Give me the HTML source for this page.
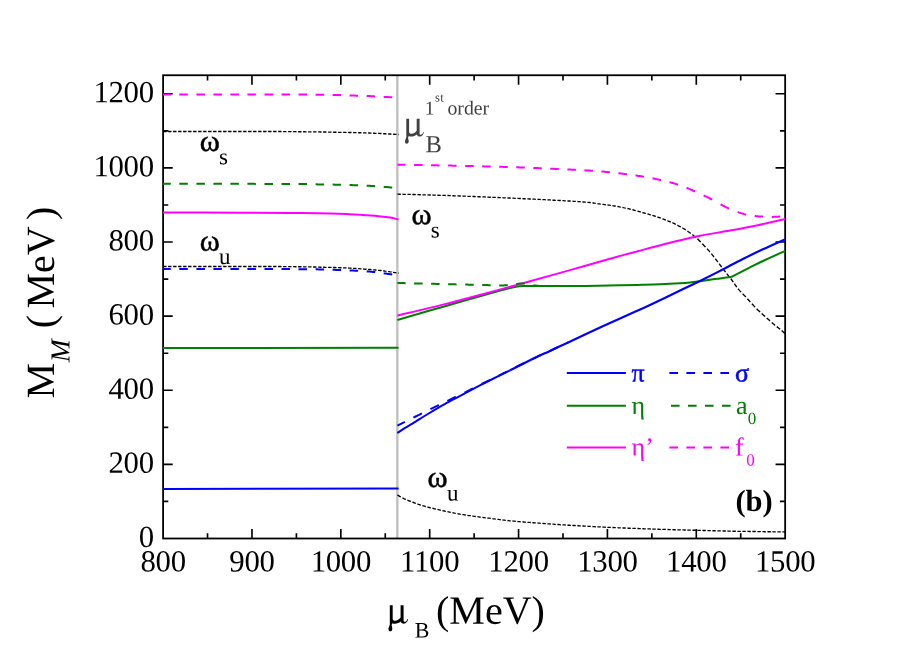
<!DOCTYPE html>
<html>
<head>
<meta charset="utf-8">
<title>Meson masses vs baryon chemical potential</title>
<style>
html, body { margin: 0; padding: 0; background: #ffffff; }
body { width: 913px; height: 646px; overflow: hidden; }
svg { display: block; will-change: transform; }
svg text { font-family: "Liberation Serif", serif; }
</style>
</head>
<body>
<svg width="913" height="646" viewBox="0 0 913 646">
<rect x="0" y="0" width="913" height="646" fill="#ffffff"/>
<line x1="397.35" y1="75.25" x2="397.35" y2="538.50" stroke="#c0c0c0" stroke-width="2.4"/>
<rect x="163.10" y="75.25" width="622.05" height="463.25" fill="none" stroke="#000" stroke-width="1.8"/>
<path d="M207.53 538.50 v-5.20 M207.53 75.25 v5.20 M251.96 538.50 v-9.60 M251.96 75.25 v9.60 M296.40 538.50 v-5.20 M296.40 75.25 v5.20 M340.83 538.50 v-9.60 M340.83 75.25 v9.60 M385.26 538.50 v-5.20 M385.26 75.25 v5.20 M429.69 538.50 v-9.60 M429.69 75.25 v9.60 M474.12 538.50 v-5.20 M474.12 75.25 v5.20 M518.56 538.50 v-9.60 M518.56 75.25 v9.60 M562.99 538.50 v-5.20 M562.99 75.25 v5.20 M607.42 538.50 v-9.60 M607.42 75.25 v9.60 M651.85 538.50 v-5.20 M651.85 75.25 v5.20 M696.29 538.50 v-9.60 M696.29 75.25 v9.60 M740.72 538.50 v-5.20 M740.72 75.25 v5.20 M163.10 501.44 h5.20 M785.15 501.44 h-5.20 M163.10 464.38 h9.60 M785.15 464.38 h-9.60 M163.10 427.32 h5.20 M785.15 427.32 h-5.20 M163.10 390.26 h9.60 M785.15 390.26 h-9.60 M163.10 353.20 h5.20 M785.15 353.20 h-5.20 M163.10 316.14 h9.60 M785.15 316.14 h-9.60 M163.10 279.08 h5.20 M785.15 279.08 h-5.20 M163.10 242.02 h9.60 M785.15 242.02 h-9.60 M163.10 204.96 h5.20 M785.15 204.96 h-5.20 M163.10 167.90 h9.60 M785.15 167.90 h-9.60 M163.10 130.84 h5.20 M785.15 130.84 h-5.20 M163.10 93.78 h9.60 M785.15 93.78 h-9.60" stroke="#000" stroke-width="1.65" fill="none"/>
<path d="M163.1 131.5 164.2 131.5 165.2 131.5 166.2 131.5 166.5 131.5M168.1 131.5 169.3 131.5 170.4 131.5 171.5 131.5 171.5 131.5M173.1 131.5 174.3 131.5 175.4 131.5 176.5 131.5 176.5 131.5M178.1 131.5 179.2 131.5 180.2 131.5 181.2 131.5 181.5 131.5M183.1 131.5 184.2 131.5 185.2 131.5 186.3 131.5 186.5 131.5M188.1 131.5 189.2 131.5 190.3 131.5 191.4 131.5 191.5 131.5M193.1 131.5 194.2 131.5 195.3 131.5 196.5 131.5 196.5 131.5M198.1 131.5 199.3 131.5 200.4 131.5 201.5 131.5M203.1 131.5 204.2 131.5 205.3 131.5 206.5 131.5M208.1 131.5 209.3 131.5 210.5 131.5 211.5 131.5M213.1 131.5 214.1 131.5 215.3 131.5 216.4 131.5 216.5 131.5M218.1 131.5 219.3 131.5 220.4 131.5 221.5 131.5 221.5 131.5M223.1 131.5 224.2 131.5 225.2 131.5 226.3 131.5 226.5 131.5M228.1 131.5 229.2 131.5 230.4 131.5 231.5 131.5 231.5 131.5M233.1 131.5 234.2 131.5 235.3 131.5 236.3 131.5 236.5 131.5M238.1 131.5 239.2 131.5 240.2 131.5 241.3 131.5 241.5 131.5M243.1 131.5 244.1 131.5 245.2 131.5 246.2 131.5 246.5 131.5M248.1 131.5 249.2 131.5 250.3 131.5 251.3 131.5 251.5 131.5M253.1 131.5 254.3 131.5 255.3 131.5 256.3 131.5 256.5 131.5M258.1 131.5 259.3 131.5 260.5 131.5 261.5 131.5M263.1 131.5 264.3 131.5 265.4 131.5 266.5 131.5M268.1 131.5 269.2 131.5 270.4 131.5 271.5 131.5M273.1 131.5 274.3 131.5 275.4 131.5 276.5 131.5M278.1 131.5 279.1 131.5 280.3 131.5 281.5 131.5 281.5 131.5M283.1 131.6 284.2 131.6 285.4 131.6 286.5 131.6M288.1 131.6 289.2 131.6 290.4 131.6 291.5 131.6 291.5 131.6M293.1 131.6 294.2 131.6 295.2 131.6 296.3 131.7 296.5 131.7M298.1 131.7 299.3 131.7 300.4 131.7 301.5 131.7 301.5 131.7M303.1 131.7 304.3 131.7 305.4 131.8 306.5 131.8 306.5 131.8M308.1 131.8 309.3 131.8 310.4 131.8 311.4 131.8 311.5 131.8M313.1 131.9 314.2 131.9 315.3 131.9 316.4 131.9 316.5 131.9M318.1 131.9 319.2 131.9 320.2 132.0 321.3 132.0 321.5 132.0M323.1 132.0 324.2 132.0 325.2 132.0 326.2 132.1 326.5 132.1M328.1 132.1 329.2 132.1 330.4 132.1 331.5 132.1M333.1 132.2 334.3 132.2 335.4 132.2 336.5 132.2 336.5 132.2M338.1 132.3 339.2 132.3 340.2 132.3 341.2 132.3 341.5 132.3M343.1 132.3 344.2 132.4 345.2 132.4 346.3 132.4 346.5 132.4M348.1 132.4 349.1 132.5 350.2 132.5 351.2 132.5 351.5 132.5M353.1 132.5 354.1 132.6 355.3 132.6 356.4 132.6 356.5 132.6M358.1 132.7 359.2 132.7 360.3 132.7 361.4 132.8 361.5 132.8M363.1 132.8 364.2 132.8 365.2 132.9 366.2 132.9 366.5 132.9M368.1 133.0 369.2 133.0 370.3 133.1 371.3 133.1 371.5 133.1M373.1 133.2 374.2 133.2 375.3 133.3 376.4 133.3 376.5 133.3M378.1 133.4 379.2 133.4 380.4 133.5 381.5 133.5M383.1 133.6 384.1 133.7 385.3 133.7 386.4 133.8 386.5 133.8M388.1 133.9 389.1 134.0 390.2 134.0 391.2 134.1 391.5 134.1M393.1 134.2 394.1 134.2 395.2 134.3 396.3 134.4 396.5 134.4M398.1 134.5 398.6 134.5" fill="none" stroke="#000" stroke-width="1.35"/>
<path d="M163.1 266.5 164.2 266.5 165.2 266.5 166.2 266.5 166.5 266.5M168.1 266.5 169.2 266.5 170.3 266.5 171.4 266.5 171.5 266.5M173.1 266.5 174.2 266.5 175.3 266.5 176.4 266.5 176.5 266.5M178.1 266.5 179.1 266.5 180.3 266.5 181.3 266.5 181.5 266.5M183.1 266.5 184.2 266.5 185.3 266.5 186.4 266.5 186.5 266.5M188.1 266.5 189.3 266.5 190.4 266.5 191.5 266.5M193.1 266.5 194.2 266.5 195.4 266.5 196.5 266.5M198.1 266.5 199.1 266.5 200.3 266.5 201.5 266.5 201.5 266.5M203.1 266.5 204.3 266.5 205.5 266.5 206.5 266.5M208.1 266.5 209.3 266.5 210.5 266.5 211.5 266.5M213.1 266.5 214.2 266.5 215.4 266.5 216.5 266.5M218.1 266.5 219.3 266.5 220.4 266.5 221.5 266.5M223.1 266.5 224.2 266.5 225.3 266.5 226.4 266.5 226.5 266.5M228.1 266.5 229.1 266.5 230.1 266.5 231.1 266.5 231.5 266.5M233.1 266.5 234.3 266.5 235.4 266.5 236.5 266.5M238.1 266.5 239.2 266.5 240.3 266.5 241.3 266.5 241.5 266.5M243.1 266.5 244.2 266.5 245.5 266.5 246.5 266.5M248.1 266.5 249.3 266.5 250.5 266.5 251.5 266.5M253.1 266.5 254.1 266.5 255.2 266.5 256.4 266.5 256.5 266.5M258.1 266.5 259.2 266.5 260.3 266.5 261.3 266.5 261.5 266.5M263.1 266.5 264.2 266.5 265.3 266.5 266.3 266.5 266.5 266.5M268.1 266.5 269.2 266.5 270.4 266.5 271.5 266.5M273.1 266.5 274.2 266.5 275.3 266.5 276.4 266.5 276.5 266.5M278.1 266.5 279.2 266.5 280.3 266.5 281.3 266.6 281.5 266.6M283.1 266.6 284.2 266.6 285.4 266.6 286.5 266.6M288.1 266.6 289.2 266.6 290.3 266.6 291.4 266.6 291.5 266.6M293.1 266.6 294.2 266.6 295.4 266.7 296.5 266.7M298.1 266.7 299.2 266.7 300.2 266.7 301.2 266.7 301.5 266.7M303.1 266.8 304.3 266.8 305.4 266.8 306.4 266.8 306.5 266.8M308.1 266.9 309.2 266.9 310.3 266.9 311.3 266.9 311.5 266.9M313.1 267.0 314.2 267.0 315.3 267.0 316.4 267.1 316.5 267.1M318.1 267.1 319.2 267.1 320.2 267.2 321.2 267.2 321.5 267.2M323.1 267.2 324.1 267.2 325.2 267.3 326.2 267.3 326.5 267.3M328.1 267.3 329.1 267.4 330.2 267.4 331.2 267.4 331.5 267.4M333.1 267.5 334.3 267.5 335.3 267.5 336.3 267.6 336.5 267.6M338.1 267.6 339.1 267.6 340.3 267.7 341.4 267.7 341.5 267.7M343.1 267.8 344.2 267.8 345.3 267.9 346.5 267.9 346.5 267.9M348.1 268.0 349.2 268.1 350.3 268.1 351.4 268.2 351.5 268.2M353.1 268.3 354.2 268.4 355.2 268.4 356.3 268.5 356.5 268.5M358.1 268.6 359.2 268.7 360.4 268.8 361.5 268.9M363.1 269.0 364.3 269.1 365.3 269.2 366.3 269.2 366.5 269.3M368.1 269.4 369.1 269.5 370.2 269.5 371.2 269.6 371.5 269.7M373.1 269.8 374.2 269.9 375.3 270.0 376.4 270.1 376.5 270.1M378.1 270.3 379.3 270.4 380.3 270.5 381.4 270.6 381.5 270.7M383.1 270.9 384.3 271.0 385.4 271.2 386.5 271.3M388.1 271.6 389.1 271.7 390.3 271.9 391.5 272.0 391.5 272.1M393.1 272.3 394.3 272.5 395.5 272.6 396.5 272.8M398.1 273.0 398.6 273.1" fill="none" stroke="#000" stroke-width="1.35"/>
<path d="M397.4 194.1 398.4 194.1 399.5 194.2 400.5 194.2 400.8 194.2M402.4 194.2 403.4 194.3 404.5 194.3 405.6 194.3 405.8 194.3M407.4 194.4 408.4 194.4 409.5 194.4 410.6 194.4 410.8 194.4M412.4 194.5 413.5 194.5 414.6 194.5 415.6 194.6 415.8 194.6M417.4 194.6 418.5 194.6 419.6 194.7 420.7 194.7 420.8 194.7M422.4 194.8 423.4 194.8 424.5 194.8 425.7 194.8 425.8 194.8M427.4 194.9 428.4 194.9 429.6 195.0 430.8 195.0M432.4 195.0 433.4 195.1 434.6 195.1 435.8 195.1M437.4 195.2 438.4 195.2 439.6 195.3 440.8 195.3M442.4 195.3 443.4 195.4 444.6 195.4 445.8 195.5M447.4 195.5 448.4 195.5 449.5 195.6 450.7 195.6 450.8 195.6M452.4 195.7 453.4 195.7 454.5 195.8 455.6 195.8 455.8 195.8M457.4 195.9 458.4 195.9 459.6 196.0 460.7 196.0 460.8 196.0M462.4 196.1 463.4 196.1 464.6 196.1 465.8 196.2M467.4 196.3 468.4 196.3 469.4 196.3 470.4 196.4 470.8 196.4M472.4 196.4 473.5 196.5 474.5 196.5 475.6 196.6 475.8 196.6M477.4 196.6 478.5 196.7 479.5 196.7 480.6 196.8 480.8 196.8M482.4 196.9 483.5 196.9 484.5 196.9 485.6 197.0 485.8 197.0M487.4 197.1 488.5 197.1 489.6 197.2 490.6 197.2 490.8 197.2M492.4 197.3 493.4 197.3 494.4 197.4 495.4 197.4 495.8 197.4M497.4 197.5 498.4 197.5 499.4 197.6 500.4 197.6 500.8 197.6M502.4 197.7 503.5 197.8 504.5 197.8 505.6 197.8 505.8 197.9M507.4 197.9 508.4 198.0 509.4 198.0 510.6 198.1 510.8 198.1M512.4 198.1 513.5 198.2 514.7 198.3 515.8 198.3M517.4 198.4 518.5 198.4 519.6 198.5 520.7 198.5 520.8 198.5M522.4 198.6 523.5 198.7 524.6 198.7 525.7 198.8 525.8 198.8M527.4 198.8 528.4 198.9 529.5 199.0 530.6 199.0 530.8 199.0M532.4 199.1 533.5 199.1 534.6 199.2 535.7 199.3 535.8 199.3M537.4 199.3 538.4 199.4 539.5 199.4 540.7 199.5 540.8 199.5M542.4 199.6 543.6 199.6 544.7 199.7 545.8 199.8M547.4 199.8 548.4 199.9 549.5 199.9 550.6 200.0 550.8 200.0M552.4 200.1 553.5 200.2 554.6 200.2 555.7 200.3 555.8 200.3M557.4 200.4 558.5 200.4 559.6 200.5 560.6 200.5 560.8 200.5M562.4 200.6 563.5 200.7 564.7 200.8 565.8 200.8M567.4 200.9 568.4 201.0 569.5 201.0 570.5 201.1 570.8 201.1M572.4 201.2 573.4 201.3 574.6 201.3 575.7 201.4 575.8 201.4M577.4 201.5 578.5 201.6 579.6 201.7 580.8 201.8M582.4 201.9 583.6 202.0 584.9 202.1 585.8 202.1M587.4 202.3 588.4 202.4 589.6 202.5 590.6 202.6 590.8 202.7M592.4 202.9 593.5 203.0 594.5 203.2 595.6 203.3 595.8 203.4M597.4 203.6 598.4 203.8 599.5 203.9 600.7 204.1 600.8 204.1M602.4 204.3 603.4 204.4 604.5 204.6 605.5 204.7 605.8 204.7M607.4 204.9 608.4 205.1 609.5 205.2 610.6 205.4 610.8 205.4M612.4 205.7 613.5 205.8 614.7 206.0 615.8 206.2M617.4 206.5 618.5 206.7 619.5 206.9 620.5 207.1 620.8 207.1M622.4 207.4 623.5 207.7 624.5 207.9 625.7 208.1 625.8 208.1M627.4 208.5 628.5 208.7 629.5 209.0 630.5 209.2 630.8 209.3M632.4 209.7 633.5 210.0 634.6 210.3 635.6 210.6 635.8 210.6M637.4 211.1 638.4 211.3 639.4 211.6 640.4 211.9 640.8 212.0M642.4 212.5 643.4 212.8 644.4 213.0 645.4 213.3 645.8 213.4M647.4 213.9 648.4 214.2 649.4 214.5 650.5 214.8 650.8 214.8M652.4 215.3 653.5 215.7 654.5 216.0 655.5 216.3 655.8 216.4M657.4 217.0 658.4 217.3 659.5 217.7 660.5 218.1 660.8 218.2M662.4 218.8 663.5 219.2 664.6 219.6 665.6 220.0 665.8 220.0M667.4 220.7 668.4 221.1 669.5 221.5 670.8 222.0M672.4 222.7 673.4 223.2 674.5 223.7 675.6 224.3 675.8 224.4M677.4 225.2 678.5 225.8 679.5 226.3 680.5 226.8 680.8 227.0M682.4 227.9 683.4 228.5 684.5 229.1 685.5 229.8 685.8 230.0M687.4 231.0 688.4 231.8 689.4 232.5 690.5 233.2 690.8 233.4M692.4 234.6 693.5 235.4 694.6 236.4 695.7 237.3 695.8 237.3M697.4 238.8 698.4 239.8 699.6 241.0 700.6 242.0 700.7 242.1M702.3 243.7 703.3 244.8 704.4 246.0 705.4 247.0 705.5 247.1M707.0 248.7 708.1 249.9 709.0 250.9 709.8 251.9 710.0 252.1M711.4 253.7 712.3 254.9 713.1 255.9 713.9 256.9 714.1 257.1M715.3 258.7 716.2 259.8 717.0 260.9 717.8 261.9 718.0 262.1M719.2 263.7 720.0 264.8 720.9 266.0 721.6 267.0 721.7 267.1M722.9 268.7 723.8 269.9 724.6 270.9 725.4 271.9 725.5 272.1M726.8 273.7 727.7 274.9 728.5 276.0 729.4 277.0 729.5 277.1M730.8 278.7 731.8 280.0 732.6 281.1 733.3 282.1M734.4 283.7 735.2 284.9 736.0 286.0 736.8 287.1M738.0 288.7 739.0 289.9 739.9 290.9 740.9 291.9 741.0 292.1M742.6 293.7 743.8 294.9 744.9 296.1 745.9 297.1 745.9 297.1M747.4 298.7 748.3 299.8 749.2 300.8 750.1 301.8 750.4 302.1M751.9 303.7 752.9 304.8 753.9 305.9 754.9 306.9 755.1 307.1M756.7 308.7 757.8 309.9 759.0 311.0 760.1 312.1M761.7 313.5 762.8 314.5 763.8 315.4 764.8 316.2 765.1 316.5M766.7 317.9 767.8 318.9 768.8 319.8 769.8 320.8 770.1 321.0M771.7 322.4 772.9 323.5 773.9 324.3 774.9 325.2 775.1 325.3M776.7 326.6 777.9 327.5 779.1 328.4 780.1 329.3M781.7 330.6 782.7 331.5 783.8 332.5 784.8 333.5 785.1 333.7" fill="none" stroke="#000" stroke-width="1.35"/>
<path d="M397.4 495.0 398.5 495.6 399.7 496.3 400.8 496.9M402.4 497.8 403.4 498.3 404.4 498.8 405.5 499.3 405.8 499.4M407.4 500.1 408.4 500.6 409.5 501.0 410.5 501.4 410.8 501.5M412.4 502.1 413.5 502.5 414.5 502.9 415.5 503.3 415.8 503.4M417.4 503.9 418.4 504.3 419.4 504.6 420.6 505.0 420.8 505.0M422.4 505.5 423.4 505.9 424.5 506.2 425.6 506.5 425.8 506.5M427.4 507.0 428.4 507.3 429.5 507.5 430.5 507.8 430.8 507.8M432.4 508.2 433.5 508.5 434.6 508.8 435.6 509.0 435.8 509.0M437.4 509.4 438.5 509.7 439.5 509.9 440.6 510.2 440.8 510.2M442.4 510.6 443.4 510.8 444.4 511.0 445.5 511.3 445.8 511.3M447.4 511.7 448.5 511.9 449.5 512.1 450.5 512.3 450.8 512.4M452.4 512.7 453.5 512.9 454.6 513.2 455.8 513.4M457.4 513.7 458.5 513.9 459.7 514.1 460.7 514.3 460.8 514.3M462.4 514.5 463.5 514.7 464.5 514.9 465.5 515.0 465.8 515.1M467.4 515.3 468.4 515.5 469.4 515.6 470.4 515.7 470.8 515.8M472.4 516.0 473.4 516.2 474.6 516.3 475.7 516.5 475.8 516.5M477.4 516.7 478.4 516.8 479.5 517.0 480.6 517.1 480.8 517.1M482.4 517.3 483.4 517.5 484.5 517.6 485.6 517.8 485.8 517.8M487.4 518.0 488.4 518.1 489.5 518.2 490.6 518.4 490.8 518.4M492.4 518.6 493.4 518.8 494.6 518.9 495.6 519.1 495.8 519.1M497.4 519.3 498.6 519.4 499.6 519.6 500.7 519.7 500.8 519.7M502.4 519.9 503.5 520.1 504.5 520.2 505.6 520.3 505.8 520.3M507.4 520.5 508.6 520.6 509.6 520.8 510.8 520.9M512.4 521.0 513.5 521.1 514.6 521.2 515.7 521.3 515.8 521.4M517.4 521.5 518.5 521.6 519.6 521.7 520.8 521.8M522.4 521.9 523.5 522.0 524.7 522.1 525.7 522.2 525.8 522.2M527.4 522.3 528.4 522.4 529.5 522.4 530.6 522.5 530.8 522.5M532.4 522.7 533.5 522.7 534.6 522.8 535.6 522.9 535.8 522.9M537.4 523.0 538.5 523.1 539.6 523.2 540.7 523.3 540.8 523.3M542.4 523.4 543.5 523.5 544.7 523.6 545.8 523.7M547.4 523.8 548.4 523.8 549.4 523.9 550.4 524.0 550.8 524.0M552.4 524.1 553.6 524.2 554.6 524.3 555.7 524.4 555.8 524.4M557.4 524.5 558.5 524.5 559.6 524.6 560.7 524.7 560.8 524.7M562.4 524.8 563.4 524.9 564.5 524.9 565.7 525.0 565.8 525.0M567.4 525.1 568.4 525.2 569.5 525.2 570.6 525.3 570.8 525.3M572.4 525.4 573.5 525.5 574.6 525.5 575.8 525.6M577.4 525.7 578.4 525.7 579.4 525.8 580.4 525.9 580.8 525.9M582.4 526.0 583.4 526.0 584.5 526.1 585.5 526.1 585.8 526.2M587.4 526.2 588.4 526.3 589.4 526.3 590.5 526.4 590.8 526.4M592.4 526.5 593.4 526.6 594.4 526.6 595.5 526.7 595.8 526.7M597.4 526.8 598.4 526.8 599.4 526.9 600.4 526.9 600.8 526.9M602.4 527.0 603.5 527.1 604.6 527.1 605.6 527.2 605.8 527.2M607.4 527.3 608.4 527.3 609.6 527.4 610.8 527.4M612.4 527.5 613.4 527.5 614.6 527.6 615.8 527.6M617.4 527.7 618.5 527.8 619.7 527.8 620.8 527.9M622.4 527.9 623.5 528.0 624.6 528.0 625.8 528.1M627.4 528.1 628.4 528.2 629.6 528.2 630.8 528.3M632.4 528.3 633.4 528.4 634.6 528.4 635.8 528.4M637.4 528.5 638.4 528.5 639.4 528.6 640.4 528.6 640.8 528.6M642.4 528.7 643.4 528.7 644.4 528.8 645.4 528.8 645.8 528.8M647.4 528.9 648.5 528.9 649.5 528.9 650.6 529.0 650.8 529.0M652.4 529.0 653.5 529.1 654.7 529.1 655.8 529.1M657.4 529.2 658.5 529.2 659.6 529.3 660.8 529.3M662.4 529.4 663.5 529.4 664.5 529.4 665.5 529.4 665.8 529.5M667.4 529.5 668.5 529.5 669.5 529.6 670.5 529.6 670.8 529.6M672.4 529.6 673.4 529.7 674.4 529.7 675.4 529.7 675.8 529.7M677.4 529.8 678.5 529.8 679.5 529.8 680.5 529.9 680.8 529.9M682.4 529.9 683.5 529.9 684.5 530.0 685.5 530.0 685.8 530.0M687.4 530.0 688.4 530.1 689.5 530.1 690.7 530.1 690.8 530.1M692.4 530.2 693.5 530.2 694.7 530.2 695.8 530.3M697.4 530.3 698.4 530.3 699.5 530.4 700.5 530.4 700.8 530.4M702.4 530.4 703.4 530.5 704.4 530.5 705.4 530.5 705.8 530.5M707.4 530.6 708.4 530.6 709.4 530.6 710.6 530.6 710.8 530.6M712.4 530.7 713.4 530.7 714.6 530.7 715.8 530.8M717.4 530.8 718.4 530.8 719.5 530.9 720.7 530.9 720.8 530.9M722.4 530.9 723.5 531.0 724.7 531.0 725.8 531.0M727.4 531.0 728.5 531.1 729.7 531.1 730.7 531.1 730.8 531.1M732.4 531.2 733.5 531.2 734.5 531.2 735.5 531.2 735.8 531.2M737.4 531.3 738.4 531.3 739.4 531.3 740.4 531.3 740.8 531.3M742.4 531.3 743.5 531.4 744.5 531.4 745.6 531.4 745.8 531.4M747.4 531.4 748.5 531.4 749.6 531.5 750.7 531.5 750.8 531.5M752.4 531.5 753.5 531.5 754.7 531.5 755.8 531.5M757.4 531.6 758.4 531.6 759.6 531.6 760.8 531.6M762.4 531.6 763.5 531.6 764.7 531.7 765.8 531.7M767.4 531.7 768.5 531.7 769.6 531.7 770.7 531.7 770.8 531.7M772.4 531.7 773.4 531.8 774.4 531.8 775.5 531.8 775.8 531.8M777.4 531.8 778.5 531.8 779.5 531.8 780.6 531.8 780.8 531.8M782.4 531.9 783.4 531.9 784.5 531.9 785.1 531.9" fill="none" stroke="#000" stroke-width="1.35"/>
<path d="M163.10 488.90 L398.55 488.50" fill="none" stroke="#0000ff" stroke-width="2.0"/>
<path d="M163.10 348.00 L398.55 347.80" fill="none" stroke="#008000" stroke-width="2.0"/>
<path d="M163.10 212.50 C175.92 212.53 218.85 212.62 240.00 212.70 C261.15 212.78 277.00 212.92 290.00 213.00 C303.00 213.08 308.67 213.02 318.00 213.20 C327.33 213.38 337.83 213.75 346.00 214.10 C354.17 214.45 361.17 214.92 367.00 215.30 C372.83 215.68 377.17 216.02 381.00 216.40 C384.83 216.78 387.07 217.08 390.00 217.60 C392.93 218.12 397.12 219.18 398.55 219.50" fill="none" stroke="#ff00ff" stroke-width="2.0"/>
<path d="M397.35 320.00 C405.29 317.70 428.73 310.85 445.00 306.20 C461.27 301.55 484.50 295.05 495.00 292.10 C505.50 289.15 504.50 289.38 508.00 288.50 C511.50 287.62 513.50 287.20 516.00 286.80 C518.50 286.40 520.33 286.23 523.00 286.10 C525.67 285.97 527.33 286.02 532.00 286.00 C536.67 285.98 542.17 286.02 551.00 286.00 C559.83 285.98 573.50 286.03 585.00 285.90 C596.50 285.77 610.53 285.38 620.00 285.20 C629.47 285.02 635.13 284.95 641.80 284.80 C648.47 284.65 653.63 284.55 660.00 284.30 C666.37 284.05 675.00 283.60 680.00 283.30 C685.00 283.00 686.67 282.85 690.00 282.50 C693.33 282.15 696.67 281.67 700.00 281.20 C703.33 280.73 706.67 280.17 710.00 279.70 C713.33 279.23 716.50 278.85 720.00 278.40 C723.50 277.95 729.17 277.23 731.00 277.00" fill="none" stroke="#008000" stroke-width="2.0"/>
<path d="M731.00 277.00 C731.33 276.87 729.83 277.80 733.00 276.20 C736.17 274.60 745.02 269.93 750.00 267.40 C754.98 264.87 757.04 263.75 762.90 261.00 C768.76 258.25 781.44 252.58 785.15 250.90" fill="none" stroke="#008000" stroke-width="2.0"/>
<path d="M397.35 433.00 C398.62 432.15 402.36 429.55 405.00 427.90 C407.64 426.25 409.25 425.50 413.20 423.10 C417.15 420.70 423.53 416.62 428.70 413.50 C433.87 410.38 439.03 407.30 444.20 404.40 C449.37 401.50 454.53 398.85 459.70 396.10 C464.87 393.35 470.05 390.58 475.20 387.90 C480.35 385.22 484.80 382.93 490.60 380.00 C496.40 377.07 506.77 371.92 510.00 370.30" fill="none" stroke="#0000ff" stroke-width="2.0"/>
<path d="M510.00 370.30 C514.02 368.28 527.43 361.43 534.10 358.20 C540.77 354.97 544.33 353.53 550.00 350.90 C555.67 348.27 559.40 346.45 568.10 342.40 C576.80 338.35 591.88 331.32 602.20 326.60 C612.52 321.88 622.03 317.70 630.00 314.10 C637.97 310.50 641.40 309.05 650.00 305.00 C658.60 300.95 673.10 293.90 681.60 289.80 C690.10 285.70 693.90 283.90 701.00 280.40 C708.10 276.90 716.98 272.48 724.20 268.80 C731.42 265.12 737.85 261.55 744.30 258.30 C750.75 255.05 756.09 252.48 762.90 249.30 C769.71 246.12 781.44 240.88 785.15 239.20" fill="none" stroke="#0000ff" stroke-width="2.2"/>
<path d="M397.35 315.60 C405.29 313.68 428.73 308.22 445.00 304.10 C461.27 299.98 480.83 294.70 495.00 290.90 C509.17 287.10 517.50 284.77 530.00 281.30 C542.50 277.83 556.67 273.87 570.00 270.10 C583.33 266.33 598.33 261.95 610.00 258.70 C621.67 255.45 630.00 253.25 640.00 250.60 C650.00 247.95 660.00 245.28 670.00 242.80 C680.00 240.32 690.00 237.73 700.00 235.70 C710.00 233.67 720.35 232.35 730.00 230.60 C739.65 228.85 748.71 227.13 757.90 225.20 C767.09 223.27 780.61 220.03 785.15 219.00" fill="none" stroke="#ff00ff" stroke-width="2.0"/>
<path d="M163.1 269.0 164.2 269.0 165.2 269.0 166.2 269.0 167.3 269.0 168.4 269.0 169.4 269.0 170.5 269.0 170.8 269.0M179.3 269.0 180.5 269.0 181.7 269.0 182.7 269.0 183.8 269.0 184.8 269.0 185.9 269.0 186.9 269.0 187.8 269.0M196.4 269.0 197.4 269.0 198.5 269.0 199.7 269.0 200.8 269.0 202.0 269.0 203.2 269.0 204.3 269.0 204.9 269.0M213.4 269.0 214.4 269.0 215.6 269.0 216.7 269.0 217.9 269.0 219.0 269.0 220.2 269.0 221.3 269.0 221.9 269.0M230.4 269.0 231.6 269.0 232.6 269.0 233.6 269.0 234.6 269.0 235.8 269.0 237.0 269.0 238.1 269.0 238.9 269.0M247.4 269.0 248.5 269.0 249.7 269.0 250.8 269.0 252.0 269.0 253.1 269.0 254.2 269.0 255.4 269.0 255.9 269.0M264.5 269.1 265.5 269.1 266.6 269.1 267.7 269.1 268.8 269.1 269.9 269.1 271.0 269.1 272.1 269.1 273.0 269.1M281.5 269.1 282.6 269.1 283.8 269.1 285.0 269.1 286.1 269.1 287.3 269.1 288.4 269.1 289.5 269.1 290.0 269.1M298.5 269.2 299.6 269.2 300.6 269.2 301.7 269.2 302.7 269.2 303.9 269.2 305.2 269.2 306.4 269.2 307.0 269.2M315.6 269.3 316.6 269.3 317.7 269.3 318.7 269.4 319.8 269.4 321.0 269.4 322.0 269.4 323.0 269.5 324.0 269.5 324.1 269.5M332.6 269.7 333.6 269.8 334.8 269.8 335.8 269.9 336.8 269.9 338.0 269.9 339.0 270.0 340.0 270.0 341.1 270.0M349.6 270.4 350.8 270.4 351.8 270.5 352.8 270.5 353.8 270.6 355.0 270.7 356.2 270.7 357.2 270.8 358.1 270.8M366.7 271.3 367.8 271.4 368.8 271.5 369.8 271.6 370.8 271.7 371.8 271.8 372.8 271.9 373.9 272.0 374.9 272.1 375.2 272.2M383.7 273.3 384.8 273.5 385.9 273.6 387.0 273.8 388.0 273.9 389.1 274.0 390.1 274.2 391.1 274.3 392.2 274.5" fill="none" stroke="#0000ff" stroke-width="2.0"/>
<path d="M163.1 183.7 164.2 183.7 165.2 183.7 166.2 183.7 167.3 183.7 168.4 183.7 169.4 183.7 170.5 183.7 170.8 183.7M179.3 183.7 180.5 183.7 181.7 183.7 182.7 183.7 183.8 183.7 184.8 183.7 185.9 183.7 186.9 183.7 187.8 183.7M196.4 183.7 197.4 183.7 198.5 183.7 199.7 183.7 200.8 183.7 202.0 183.7 203.2 183.7 204.3 183.7 204.9 183.7M213.4 183.7 214.4 183.8 215.6 183.8 216.7 183.8 217.9 183.8 219.0 183.8 220.2 183.8 221.3 183.8 221.9 183.8M230.4 183.8 231.6 183.8 232.6 183.8 233.6 183.8 234.6 183.8 235.8 183.8 237.0 183.8 238.1 183.8 238.9 183.8M247.4 183.8 248.5 183.8 249.7 183.8 250.8 183.8 252.0 183.8 253.1 183.8 254.2 183.8 255.4 183.9 255.9 183.9M264.5 183.9 265.5 183.9 266.6 183.9 267.7 183.9 268.8 183.9 269.9 183.9 271.0 183.9 272.1 183.9 273.0 183.9M281.5 184.0 282.6 184.0 283.8 184.0 285.0 184.0 286.1 184.0 287.3 184.0 288.4 184.0 289.5 184.0 290.0 184.0M298.5 184.1 299.6 184.1 300.6 184.1 301.7 184.1 302.7 184.1 303.9 184.1 305.2 184.1 306.4 184.1 307.0 184.1M315.6 184.3 316.6 184.3 317.7 184.4 318.7 184.4 319.8 184.4 321.0 184.4 322.0 184.4 323.0 184.5 324.0 184.5 324.1 184.5M332.6 184.6 333.6 184.6 334.8 184.7 335.8 184.7 336.8 184.7 338.0 184.7 339.0 184.7 340.0 184.8 341.1 184.8M349.6 185.1 350.8 185.1 351.8 185.1 352.8 185.2 353.8 185.2 355.0 185.2 356.2 185.3 357.2 185.3 358.1 185.3M366.7 185.7 367.8 185.7 368.8 185.8 369.8 185.8 370.8 185.9 371.8 185.9 372.8 186.0 373.9 186.1 374.9 186.2 375.2 186.2M383.7 186.8 384.8 186.9 385.9 187.0 387.0 187.1 388.0 187.2 389.1 187.3 390.1 187.4 391.1 187.5 392.2 187.6" fill="none" stroke="#008000" stroke-width="2.0"/>
<path d="M163.1 94.5 164.2 94.5 165.2 94.5 166.2 94.5 167.3 94.5 168.4 94.5 169.4 94.5 170.5 94.5 170.8 94.5M179.3 94.5 180.4 94.5 181.5 94.5 182.6 94.5 183.6 94.5 184.6 94.5 185.7 94.5 186.7 94.5 187.8 94.5 187.8 94.5M196.4 94.5 197.4 94.5 198.6 94.5 199.7 94.5 200.9 94.5 202.0 94.5 203.2 94.5 204.4 94.5 204.9 94.5M213.4 94.5 214.4 94.5 215.6 94.5 216.7 94.5 217.9 94.5 219.0 94.5 220.2 94.5 221.3 94.5 221.9 94.5M230.4 94.5 231.5 94.5 232.7 94.5 233.9 94.5 234.9 94.5 236.0 94.5 237.0 94.5 238.0 94.5 238.9 94.5M247.4 94.5 248.6 94.5 249.7 94.5 250.9 94.5 252.0 94.5 253.1 94.5 254.2 94.5 255.4 94.5 255.9 94.5M264.5 94.5 265.5 94.5 266.6 94.5 267.7 94.5 268.8 94.5 270.0 94.5 271.1 94.5 272.1 94.5 273.0 94.5M281.5 94.6 282.5 94.6 283.5 94.6 284.7 94.6 285.9 94.6 287.1 94.6 288.2 94.6 289.3 94.6 290.0 94.6M298.5 94.6 299.7 94.6 300.8 94.6 301.9 94.6 302.9 94.6 304.0 94.6 305.5 94.6 306.8 94.6 307.0 94.6M315.6 94.7 316.6 94.7 317.7 94.8 318.8 94.8 319.8 94.8 321.0 94.8 322.0 94.8 323.0 94.8 324.0 94.8 324.1 94.8M332.6 95.0 333.6 95.0 334.8 95.0 335.8 95.0 336.8 95.0 338.0 95.1 339.0 95.1 340.0 95.1 341.1 95.2M349.6 95.4 350.8 95.5 351.8 95.5 352.8 95.6 353.8 95.6 355.0 95.6 356.2 95.7 357.2 95.7 358.1 95.7M366.7 96.0 367.8 96.1 368.8 96.1 369.8 96.1 370.8 96.2 371.8 96.2 372.8 96.3 373.9 96.3 374.9 96.4 375.2 96.4M383.7 96.9 384.8 96.9 385.9 97.0 387.0 97.0 388.0 97.1 389.1 97.2 390.1 97.2 391.1 97.3 392.2 97.3" fill="none" stroke="#ff00ff" stroke-width="2.0"/>
<path d="M397.4 425.6 398.4 425.1 399.4 424.6 400.4 424.1 401.5 423.6 402.8 422.9 403.9 422.4 404.9 421.9M413.4 417.7 414.5 417.1 415.6 416.5 416.7 416.0 417.9 415.4 419.0 414.9 420.1 414.3 421.3 413.7 421.9 413.4M430.4 409.2 431.4 408.7 432.5 408.2 433.5 407.7 434.5 407.2 435.5 406.7 436.7 406.1 437.9 405.5 438.9 405.1M447.4 401.0 448.5 400.4 449.5 400.0 450.5 399.5 451.5 399.0 452.5 398.5 453.5 398.0 454.5 397.5 455.5 397.0 455.9 396.8M464.5 392.6 465.6 392.1 466.6 391.6 467.6 391.1 468.6 390.6 469.6 390.1 470.8 389.5 472.0 388.9 473.0 388.4M481.5 384.1 482.7 383.5 483.7 383.0 484.8 382.5 485.8 382.0 487.0 381.4 488.1 380.8 489.3 380.3 490.0 379.9M498.5 375.8 499.6 375.3 500.8 374.7 502.0 374.1 503.1 373.5 504.2 373.0 505.3 372.5 506.4 371.9 507.0 371.6M515.6 367.3 516.7 366.7 517.9 366.2 519.0 365.6 520.2 365.0 521.2 364.5 522.3 364.0 523.3 363.5 524.1 363.1M532.6 358.9 533.7 358.4 534.9 357.8 536.0 357.3 537.2 356.8 538.3 356.2 539.5 355.7 540.7 355.1 541.1 355.0M549.6 351.1 550.8 350.5 551.8 350.1 552.9 349.6 554.0 349.0 555.1 348.5 556.3 348.0 557.5 347.4 558.1 347.1M566.7 343.1 567.7 342.6 568.1 342.4" fill="none" stroke="#0000ff" stroke-width="2.0"/>
<path d="M397.4 283.0 398.4 283.0 399.5 283.0 400.6 283.1 401.7 283.1 402.8 283.1 403.9 283.1 405.0 283.2 405.6 283.2M414.1 283.4 415.2 283.4 416.3 283.4 417.4 283.5 418.5 283.5 419.7 283.5 420.8 283.5 422.0 283.6 422.6 283.6M431.1 283.8 432.3 283.8 433.5 283.8 434.6 283.8 435.8 283.9 436.9 283.9 438.0 283.9 439.1 283.9 439.6 284.0M448.1 284.2 449.3 284.2 450.5 284.2 451.6 284.2 452.8 284.3 453.9 284.3 455.1 284.3 456.3 284.4 456.6 284.4M465.2 284.6 466.2 284.6 467.3 284.6 468.4 284.7 469.5 284.7 470.6 284.7 471.6 284.7 472.7 284.8 473.7 284.8M482.2 285.0 483.2 285.0 484.3 285.1 485.4 285.1 486.5 285.1 487.6 285.1 488.6 285.2 489.7 285.2 490.7 285.2M499.2 285.4 500.2 285.4 501.3 285.4 502.3 285.4 503.5 285.4 504.6 285.3 505.7 285.3 506.7 285.2 507.7 285.1M516.3 284.1 517.4 283.9 518.5 283.7 519.6 283.5 520.6 283.5 521.6 283.5 522.8 283.5 524.0 283.6 524.8 283.6M533.3 285.2 534.5 285.4 535.7 285.5 536.8 285.7 537.9 285.8 539.0 285.9 540.0 286.0" fill="none" stroke="#008000" stroke-width="2.0"/>
<path d="M397.4 164.7 398.4 164.7 399.5 164.7 400.5 164.8 401.6 164.8 402.6 164.8 403.7 164.8 404.8 164.8 405.6 164.8M414.1 165.0 415.2 165.0 416.2 165.0 417.3 165.0 418.3 165.0 419.4 165.0 420.5 165.1 421.6 165.1 422.6 165.1M431.1 165.2 432.2 165.3 433.4 165.3 434.6 165.3 435.8 165.3 436.9 165.3 438.1 165.4 439.3 165.4 439.6 165.4M448.1 165.6 449.3 165.6 450.4 165.6 451.4 165.6 452.5 165.7 453.6 165.7 454.6 165.7 455.7 165.7 456.6 165.7M465.2 165.9 466.2 166.0 467.4 166.0 468.5 166.0 469.7 166.0 470.9 166.1 472.1 166.1 473.1 166.1 473.7 166.1M482.2 166.3 483.3 166.3 484.3 166.4 485.4 166.4 486.4 166.4 487.4 166.4 488.5 166.5 489.5 166.5 490.5 166.5 490.7 166.5M499.2 166.8 500.3 166.8 501.4 166.8 502.4 166.8 503.4 166.9 504.5 166.9 505.5 166.9 506.5 167.0 507.6 167.0 507.7 167.0M516.3 167.3 517.4 167.3 518.4 167.3 519.4 167.4 520.4 167.4 521.4 167.5 522.4 167.5 523.5 167.5 524.5 167.6 524.8 167.6M533.3 167.9 534.4 168.0 535.5 168.0 536.7 168.1 537.8 168.1 538.9 168.2 540.0 168.2 541.2 168.3 541.8 168.3M550.3 168.7 551.5 168.7 552.7 168.8 553.8 168.8 554.9 168.9 556.0 168.9 557.1 169.0 558.2 169.0 558.8 169.1M567.4 169.5 568.4 169.5 569.5 169.6 570.5 169.6 571.7 169.7 572.8 169.7 574.0 169.8 575.2 169.8 575.9 169.9M584.4 170.3 585.5 170.4 586.6 170.4 587.7 170.5 588.7 170.5 589.8 170.6 591.1 170.7 592.1 170.7 592.9 170.8M601.4 171.4 602.5 171.5 603.5 171.6 604.6 171.8 605.7 171.9 606.8 172.0 607.9 172.1 609.1 172.2 609.9 172.3M618.4 173.2 619.5 173.3 620.6 173.5 621.6 173.6 622.6 173.7 623.6 173.8 624.8 174.0 625.8 174.1 626.9 174.2 626.9 174.2M635.5 175.4 636.5 175.5 637.5 175.7 638.7 175.9 639.9 176.0 641.0 176.2 642.2 176.4 643.3 176.6 644.0 176.7M652.5 178.3 653.6 178.5 654.7 178.8 655.9 179.0 657.0 179.3 658.2 179.5 659.4 179.8 660.6 180.1 661.0 180.1M669.5 182.2 670.6 182.4 671.6 182.7 672.6 183.0 673.6 183.3 674.6 183.6 675.6 183.9 676.6 184.2 677.7 184.6 678.0 184.7M686.6 187.8 687.6 188.2 688.7 188.7 689.7 189.1 690.8 189.6 692.0 190.0 693.0 190.5 694.1 191.0 695.1 191.5M703.6 195.3 704.6 195.8 705.8 196.3 706.8 196.8 707.8 197.3 708.9 197.9 710.0 198.5 711.0 199.0 712.1 199.6 712.1 199.6M720.6 204.4 721.8 205.0 723.0 205.7 724.0 206.2 725.0 206.7 726.0 207.2 727.0 207.6 728.1 208.1 729.1 208.6M737.7 212.0 738.7 212.4 739.8 212.8 741.0 213.1 742.0 213.4 743.0 213.7 744.2 214.1 745.4 214.4 746.2 214.5M754.7 215.9 755.8 216.1 756.8 216.2 757.9 216.3 758.9 216.4 759.9 216.4 761.0 216.5 762.0 216.6 763.1 216.6 763.2 216.6M771.7 216.9 772.7 216.9 773.9 216.8 775.1 216.8 776.1 216.8 777.3 216.7 778.4 216.7 779.6 216.6 780.2 216.6" fill="none" stroke="#ff00ff" stroke-width="2.0"/>
<text transform="translate(163.10 571.4) rotate(0.03)" font-size="30.8" letter-spacing="-0.3" text-anchor="middle">800</text>
<text transform="translate(251.96 571.4) rotate(0.03)" font-size="30.8" letter-spacing="-0.3" text-anchor="middle">900</text>
<text transform="translate(340.83 571.4) rotate(0.03)" font-size="30.8" letter-spacing="-0.3" text-anchor="middle">1000</text>
<text transform="translate(429.69 571.4) rotate(0.03)" font-size="30.8" letter-spacing="-0.3" text-anchor="middle">1100</text>
<text transform="translate(518.56 571.4) rotate(0.03)" font-size="30.8" letter-spacing="-0.3" text-anchor="middle">1200</text>
<text transform="translate(607.42 571.4) rotate(0.03)" font-size="30.8" letter-spacing="-0.3" text-anchor="middle">1300</text>
<text transform="translate(696.29 571.4) rotate(0.03)" font-size="30.8" letter-spacing="-0.3" text-anchor="middle">1400</text>
<text transform="translate(785.15 571.4) rotate(0.03)" font-size="30.8" letter-spacing="-0.3" text-anchor="middle">1500</text>
<text transform="translate(153.8 547.00) rotate(0.03)" font-size="30.8" letter-spacing="-0.3" text-anchor="end">0</text>
<text transform="translate(153.8 472.88) rotate(0.03)" font-size="30.8" letter-spacing="-0.3" text-anchor="end">200</text>
<text transform="translate(153.8 398.76) rotate(0.03)" font-size="30.8" letter-spacing="-0.3" text-anchor="end">400</text>
<text transform="translate(153.8 324.64) rotate(0.03)" font-size="30.8" letter-spacing="-0.3" text-anchor="end">600</text>
<text transform="translate(153.8 250.52) rotate(0.03)" font-size="30.8" letter-spacing="-0.3" text-anchor="end">800</text>
<text transform="translate(153.8 176.40) rotate(0.03)" font-size="30.8" letter-spacing="-0.3" text-anchor="end">1000</text>
<text transform="translate(153.8 102.28) rotate(0.03)" font-size="30.8" letter-spacing="-0.3" text-anchor="end">1200</text>
<path d="M110 100 L165 100 L165 360 C168 382 185 395 210 395 C250 395 290 370 315 335 L315 100 L372 100 L372 385 C372 405 380 415 395 415 C415 415 435 395 445 360 L458 366 C448 410 420 450 375 450 C345 450 325 435 318 410 C290 435 250 452 205 452 C185 452 170 448 160 440 C150 455 146 465 146 480 C146 500 158 520 158 545 C158 575 142 595 120 595 C98 595 84 578 84 550 C84 515 112 490 112 445 L110 440 Z" fill="#000" transform="translate(389.80 623.50) scale(0.05263) translate(-110 -447)"/>
<text transform="translate(414.8 637.6) rotate(0.03)" font-size="22">B</text>
<text transform="translate(436.0 623.8) rotate(0.03)" font-size="40">(MeV)</text>
<text transform="translate(54.00 398.60) rotate(-90.03)" font-size="40">M</text>
<text transform="translate(69.50 362.20) rotate(-90.03)" font-size="27.5" font-style="italic">M</text>
<text transform="translate(54.00 328.30) rotate(-90.03)" font-size="40">(</text>
<text transform="translate(54.00 308.60) rotate(-90.03)" font-size="40">MeV</text>
<text transform="translate(54.00 220.00) rotate(-90.03)" font-size="40">)</text>
<text transform="translate(199.80 150.90) rotate(0.03)" font-size="30.5" stroke="#000" stroke-width="0.5">ω</text>
<text transform="translate(219.10 164.20) rotate(0.03)" font-size="23">s</text>
<text transform="translate(199.80 250.70) rotate(0.03)" font-size="30.5" stroke="#000" stroke-width="0.5">ω</text>
<text transform="translate(219.10 264.00) rotate(0.03)" font-size="23">u</text>
<text transform="translate(411.40 224.30) rotate(0.03)" font-size="30.5" stroke="#000" stroke-width="0.5">ω</text>
<text transform="translate(430.70 237.60) rotate(0.03)" font-size="23">s</text>
<text transform="translate(427.60 487.10) rotate(0.03)" font-size="30.5" stroke="#000" stroke-width="0.5">ω</text>
<text transform="translate(446.90 500.40) rotate(0.03)" font-size="23">u</text>
<path d="M110 100 L165 100 L165 360 C168 382 185 395 210 395 C250 395 290 370 315 335 L315 100 L372 100 L372 385 C372 405 380 415 395 415 C415 415 435 395 445 360 L458 366 C448 410 420 450 375 450 C345 450 325 435 318 410 C290 435 250 452 205 452 C185 452 170 448 160 440 C150 455 146 465 146 480 C146 500 158 520 158 545 C158 575 142 595 120 595 C98 595 84 578 84 550 C84 515 112 490 112 445 L110 440 Z" fill="#404040" transform="translate(406.30 136.30) scale(0.05066) translate(-110 -447)"/>
<text transform="translate(425.4 152.2) rotate(0.03)" font-size="24.5" fill="#404040">B</text>
<text transform="translate(424.7 114.6) rotate(0.03)" font-size="19.5" fill="#404040">1</text>
<text transform="translate(435.0 101.5) rotate(0.03)" font-size="12.5" letter-spacing="0.4" fill="#404040">st</text>
<text transform="translate(447.4 114.6) rotate(0.03)" font-size="19.8" fill="#404040">order</text>
<text transform="translate(735.4 511.0) rotate(0.03)" font-size="30.6" font-weight="bold">(b)</text>
<line x1="566.8" y1="373.00" x2="625.9" y2="373.00" stroke="#0000ff" stroke-width="2"/>
<line x1="669.40" y1="373.00" x2="729.10" y2="373.00" stroke="#0000ff" stroke-width="2" stroke-dasharray="8.6 8.4"/>
<text transform="translate(631.6 381.50) rotate(0.03)" font-size="26" fill="#0000ff" stroke="#0000ff" stroke-width="0.4">π</text>
<text transform="translate(735.00 381.50) rotate(0.03)" font-size="26" fill="#0000ff" stroke="#0000ff" stroke-width="0.55">σ</text>
<line x1="566.8" y1="405.70" x2="625.9" y2="405.70" stroke="#008000" stroke-width="2"/>
<line x1="671.00" y1="405.70" x2="730.70" y2="405.70" stroke="#008000" stroke-width="2" stroke-dasharray="8.6 8.4"/>
<text transform="translate(631.6 414.00) rotate(0.03)" font-size="26" fill="#008000">η</text>
<text transform="translate(736.00 414.00) rotate(0.03)" font-size="26" fill="#008000">a</text>
<text transform="translate(747.80 424.00) rotate(0.03)" font-size="17" fill="#008000">0</text>
<line x1="566.8" y1="447.50" x2="625.9" y2="447.50" stroke="#ff00ff" stroke-width="2"/>
<line x1="669.40" y1="447.50" x2="729.10" y2="447.50" stroke="#ff00ff" stroke-width="2" stroke-dasharray="8.6 8.4"/>
<text transform="translate(631.6 455.60) rotate(0.03)" font-size="26" fill="#ff00ff">η’</text>
<text transform="translate(735.00 455.60) rotate(0.03)" font-size="26" fill="#ff00ff">f</text>
<text transform="translate(746.30 465.60) rotate(0.03)" font-size="17" fill="#ff00ff">0</text>
</svg>
</body>
</html>
